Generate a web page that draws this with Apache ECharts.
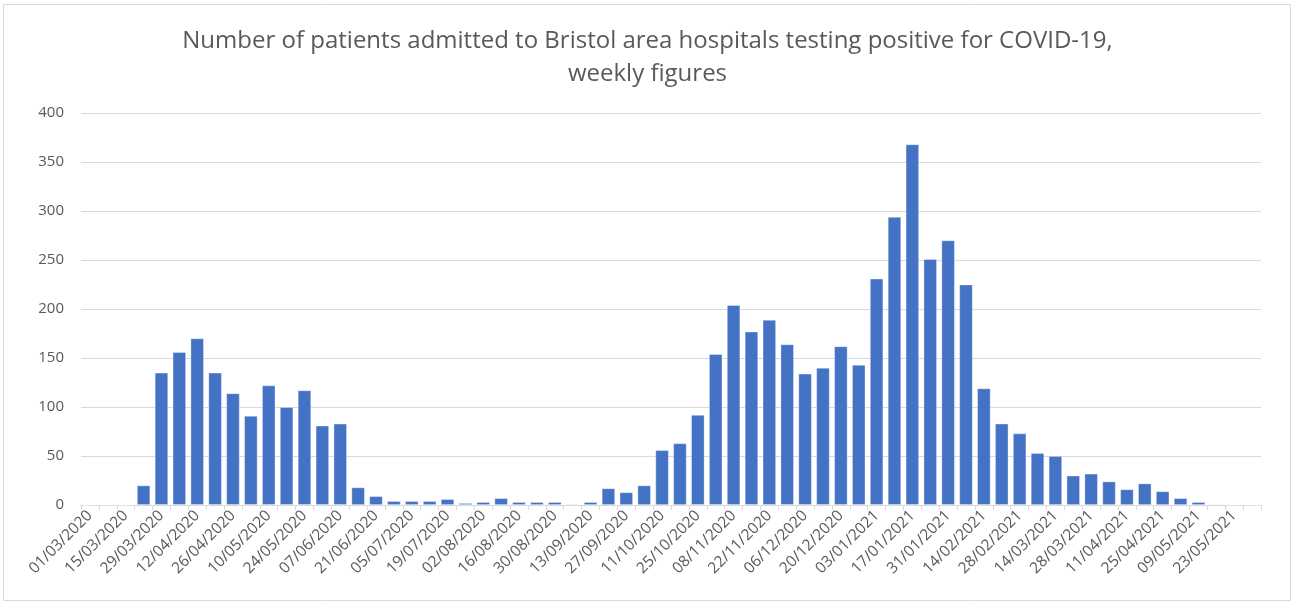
<!DOCTYPE html>
<html>
<head>
<meta charset="utf-8">
<style>
  html, body { margin: 0; padding: 0; background: #fff; }
  #chart { width: 1295px; height: 605px; }
</style>
<script src="https://cdn.jsdelivr.net/npm/echarts@6/dist/echarts.min.js"></script>
</head>
<body>
<div id="chart"></div>
<script>
const weeks = [
  "01/03/2020", "08/03/2020", "15/03/2020", "22/03/2020", "29/03/2020", "05/04/2020",
  "12/04/2020", "19/04/2020", "26/04/2020", "03/05/2020", "10/05/2020", "17/05/2020",
  "24/05/2020", "31/05/2020", "07/06/2020", "14/06/2020", "21/06/2020", "28/06/2020",
  "05/07/2020", "12/07/2020", "19/07/2020", "26/07/2020", "02/08/2020", "09/08/2020",
  "16/08/2020", "23/08/2020", "30/08/2020", "06/09/2020", "13/09/2020", "20/09/2020",
  "27/09/2020", "04/10/2020", "11/10/2020", "18/10/2020", "25/10/2020", "01/11/2020",
  "08/11/2020", "15/11/2020", "22/11/2020", "29/11/2020", "06/12/2020", "13/12/2020",
  "20/12/2020", "27/12/2020", "03/01/2021", "10/01/2021", "17/01/2021", "24/01/2021",
  "31/01/2021", "07/02/2021", "14/02/2021", "21/02/2021", "28/02/2021", "07/03/2021",
  "14/03/2021", "21/03/2021", "28/03/2021", "04/04/2021", "11/04/2021", "18/04/2021",
  "25/04/2021", "02/05/2021", "09/05/2021", "16/05/2021", "23/05/2021", "30/05/2021"
];

const admissions = [
  0, 0, 0, 20, 135, 156, 170, 135, 114, 91, 122, 100,
  117, 81, 83, 18, 9, 4, 4, 4, 6, 2, 3, 7,
  3, 3, 3, 1, 3, 17, 13, 20, 56, 63, 92, 154,
  204, 177, 189, 164, 134, 140, 162, 143, 231, 294, 368, 251,
  270, 225, 119, 83, 73, 53, 50, 30, 32, 24, 16, 22,
  14, 7, 3, 1, 0, 0
];

const yTicks = { min: 0, max: 400, step: 50 };

const textGrey = "#595959";
const lineGrey = "#d9d9d9";
const font = "'Open Sans', 'Liberation Sans', sans-serif";

const chart = echarts.init(document.getElementById("chart"), null, { renderer: "canvas" });

chart.setOption({
  animation: false,
  backgroundColor: "#fff",
  title: {
    text: "Number of patients admitted to Bristol area hospitals testing positive for COVID-19,\nweekly figures",
    left: "center",
    top: 20,
    textStyle: {
      fontFamily: font,
      fontSize: 24,
      fontWeight: "normal",
      color: textGrey,
      lineHeight: 33
    }
  },
  graphic: [
    {
      type: "rect",
      silent: true,
      shape: { x: 3.5, y: 4.5, width: 1287, height: 596 },
      style: { fill: "none", stroke: lineGrey, lineWidth: 1 }
    }
  ],
  grid: {
    left: 81,
    right: 34,
    top: 113,
    bottom: 100
  },
  xAxis: {
    type: "category",
    data: weeks,
    boundaryGap: true,
    axisLine: { lineStyle: { color: lineGrey, width: 1 } },
    axisTick: {
      show: true,
      interval: 0,
      length: 5,
      lineStyle: { color: lineGrey }
    },
    axisLabel: {
      interval: 1,
      rotate: 45,
      margin: 8,
      fontFamily: font,
      fontSize: 15.5,
      color: textGrey
    }
  },
  yAxis: {
    type: "value",
    min: yTicks.min,
    max: yTicks.max,
    interval: yTicks.step,
    axisLine: { show: false },
    axisTick: { show: false },
    splitLine: { lineStyle: { color: lineGrey, width: 1 } },
    axisLabel: {
      margin: 17,
      fontFamily: font,
      fontSize: 15,
      color: textGrey
    }
  },
  series: [
    {
      type: "bar",
      data: admissions,
      barCategoryGap: "25%",
      itemStyle: {
        color: "#4472C4",
        borderColor: "rgba(255,255,255,0.45)",
        borderWidth: 0.8
      }
    }
  ]
});
</script>
</body>
</html>
